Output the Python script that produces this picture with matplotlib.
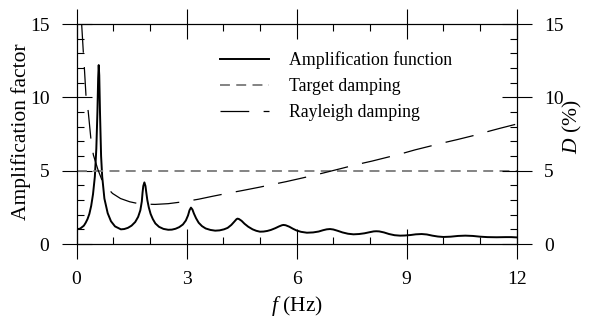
import matplotlib
matplotlib.use("Agg")
import matplotlib.pyplot as plt
from matplotlib.ticker import MultipleLocator

plt.rcParams['font.family'] = ['Liberation Serif', 'DejaVu Serif']
plt.rcParams['mathtext.fontset'] = 'custom'
plt.rcParams['mathtext.it'] = 'Liberation Serif:italic'
plt.rcParams['mathtext.rm'] = 'Liberation Serif'

# Amplification function of the soil column (frequency in Hz, amplification factor)
amp_freq = [0.0, 0.1, 0.2, 0.25, 0.3, 0.35, 0.4, 0.45, 0.5, 0.54, 0.57, 0.59, 0.605,
            0.62, 0.64, 0.67, 0.7, 0.76, 0.85, 0.94, 1.05, 1.21,
            1.3, 1.4, 1.5, 1.6, 1.68, 1.74, 1.78, 1.80, 1.82, 1.85, 1.88, 1.90,
            1.93, 1.97, 2.02, 2.08, 2.15, 2.25, 2.37, 2.5,
            2.6, 2.7, 2.8, 2.9, 2.98, 3.04, 3.08, 3.12, 3.16, 3.2, 3.26, 3.33,
            3.42, 3.52, 3.65, 3.78,
            3.9, 4.02, 4.12, 4.22, 4.3, 4.36, 4.39, 4.43, 4.5, 4.58, 4.68, 4.8,
            4.9, 5.0,
            5.1, 5.2, 5.3, 5.42, 5.52, 5.6, 5.64, 5.7, 5.8, 5.9, 6.0, 6.12, 6.28,
            6.45, 6.6, 6.72, 6.82, 6.91, 7.0, 7.12, 7.25, 7.4, 7.55,
            7.7, 7.85, 8.0, 8.1, 8.17, 8.25, 8.38, 8.52, 8.67, 8.82,
            8.95, 9.1, 9.25, 9.41, 9.55, 9.7, 9.85, 10.0,
            10.2, 10.4, 10.6, 10.8, 11.0, 11.2, 11.45, 11.7, 11.85, 12.0]
amp_value = [1.0, 1.05, 1.25, 1.45, 1.7, 2.05, 2.6, 3.4, 4.6, 6.5, 9.0, 11.3, 12.2,
             11.5, 9.0, 6.0, 4.6, 3.1, 2.1, 1.55, 1.2, 1.0,
             1.02, 1.1, 1.25, 1.5, 1.85, 2.3, 2.9, 3.5, 3.95, 4.2, 3.95, 3.55,
             3.0, 2.5, 2.05, 1.7, 1.4, 1.17, 1.03, 0.97,
             0.98, 1.04, 1.15, 1.33, 1.6, 1.95, 2.3, 2.48, 2.35, 2.08, 1.75, 1.45,
             1.22, 1.06, 0.96, 0.91,
             0.93, 1.0, 1.1, 1.3, 1.52, 1.69, 1.73, 1.7, 1.58, 1.38, 1.18, 1.0,
             0.9, 0.84,
             0.85, 0.89, 0.96, 1.08, 1.2, 1.28, 1.3, 1.28, 1.18, 1.04, 0.92, 0.83, 0.77,
             0.79, 0.85, 0.94, 1.0, 1.02, 0.99, 0.9, 0.79, 0.7, 0.66,
             0.68, 0.73, 0.81, 0.86, 0.87, 0.86, 0.79, 0.68, 0.6, 0.57,
             0.58, 0.61, 0.66, 0.68, 0.65, 0.57, 0.51, 0.48,
             0.5, 0.55, 0.57, 0.55, 0.5, 0.47, 0.46, 0.47, 0.47, 0.45]

# Target damping ratio (%)
target_freq = [0.0, 12.0]
target_damping = [5.0, 5.0]

# Rayleigh damping ratio (%)
rayleigh_freq = [0.14, 0.185, 0.213, 0.26, 0.32, 0.395, 0.46, 0.58, 0.71, 0.85,
                 0.98, 1.2, 1.45, 1.73, 2.14, 2.5, 2.91, 3.32, 3.7, 4.1, 4.53,
                 5.0, 5.32, 5.71, 6.1, 6.5, 6.87, 7.25, 7.64, 8.05, 8.45, 8.82,
                 9.23, 9.6, 10.0, 10.38, 10.8, 11.17, 11.53, 12.0]
rayleigh_damping = [15.0, 13.1, 12.05, 10.04, 9.02, 7.09, 6.07, 5.1, 4.25, 3.8,
                    3.45, 3.1, 2.88, 2.73, 2.7, 2.75, 2.88, 3.05, 3.25, 3.45, 3.65,
                    3.88, 4.05, 4.25, 4.47, 4.7, 4.93, 5.17, 5.42, 5.65, 5.9, 6.13,
                    6.42, 6.65, 6.9, 7.12, 7.38, 7.64, 7.88, 8.18]

x_major = [0, 3, 6, 9, 12]
y_major = [0, 5, 10, 15]

fig = plt.figure(figsize=(5.89, 3.24), dpi=100)
ax = fig.add_axes([0.1299, 0.2469, 0.7474, 0.679])

ax.plot(amp_freq, amp_value, color='black', lw=1.4, solid_joinstyle='round',
        label='Amplification function')
ax.plot(target_freq, target_damping, color='#7a7a7a', lw=1.3,
        dashes=(5.5, 3.5), label='Target damping', clip_on=False)
ax.plot(rayleigh_freq, rayleigh_damping, color='black', lw=0.9,
        dashes=(23, 11.5), label='Rayleigh damping')

ax.set_xlim(0, 12)
ax.set_ylim(0, 15)
ax.set_xticks(x_major)
ax.set_yticks(y_major)
ax.xaxis.set_minor_locator(MultipleLocator(1))
ax.yaxis.set_minor_locator(MultipleLocator(1))
ax.tick_params(which='major', direction='inout', length=21, width=0.8,
               labelsize=14, top=True, bottom=True, left=True, right=False,
               pad=9)
ax.tick_params(which='minor', direction='in', length=5, width=0.8,
               top=True, bottom=True, left=True, right=False)
for s in ax.spines.values():
    s.set_linewidth(0.8)

ax2 = ax.twinx()
ax2.set_ylim(0, 15)
ax2.set_yticks(y_major)
ax2.yaxis.set_minor_locator(MultipleLocator(1))
ax2.tick_params(which='major', direction='inout', length=21, width=0.8,
                labelsize=14, pad=9)
ax2.tick_params(which='minor', direction='in', length=5, width=0.8)
for s in ax2.spines.values():
    s.set_linewidth(0.8)

# Axis titles
fig.text(21 / 589, 1 - 132 / 324, 'Amplification factor', fontsize=15.5,
         rotation=90, ha='center', va='center')
fig.text(572 / 589, 1 - 127 / 324, r'$D$ (%)', fontsize=15.5,
         rotation=90, ha='center', va='center')
ax.set_xlabel(r'$f$ (Hz)', fontsize=15.5, labelpad=4)

leg = ax.legend(loc='upper left', bbox_to_anchor=(0.325, 0.875), frameon=False,
                fontsize=12.8, handlelength=2.8, handletextpad=1.1,
                labelspacing=0.5, borderaxespad=0, borderpad=0)

fig.savefig('out.png', dpi=100)
